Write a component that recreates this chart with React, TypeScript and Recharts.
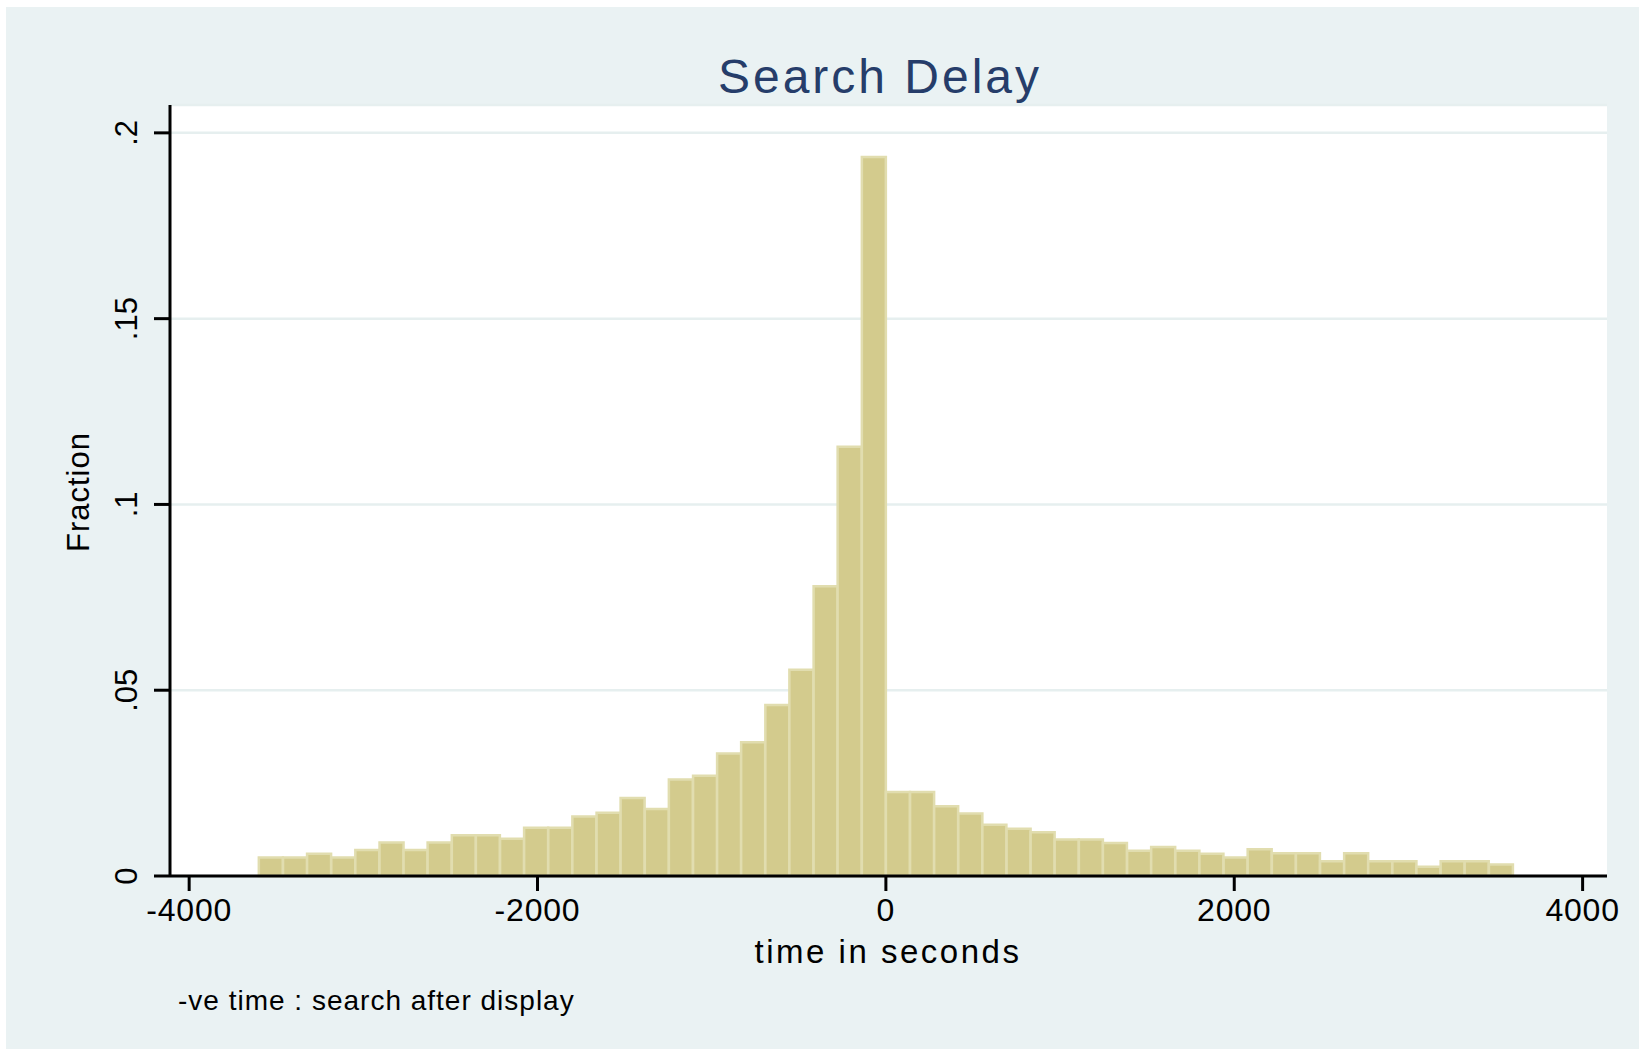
import React from 'react';
import { BarChart, Bar, XAxis, YAxis, CartesianGrid } from 'recharts';

// bin midpoints (seconds), 52 bins from -3600 to 3600
const binMids = [
  -3531, -3392, -3254, -3115, -2977, -2838, -2700, -2562, -2423, -2285, -2146, -2008, -1869,
  -1731, -1592, -1454, -1315, -1177, -1038, -900, -762, -623, -485, -346, -208, -69,
  69, 208, 346, 485, 623, 762, 900, 1038, 1177, 1315, 1454, 1592, 1731,
  1869, 2008, 2146, 2285, 2423, 2562, 2700, 2838, 2977, 3115, 3254, 3392, 3531,
];

// fraction of searches in each bin
const fractions = [
  0.005, 0.005, 0.006, 0.005, 0.007, 0.009, 0.007, 0.009, 0.011, 0.011, 0.010, 0.013, 0.013,
  0.016, 0.017, 0.021, 0.018, 0.026, 0.027, 0.033, 0.036, 0.046, 0.0555, 0.078, 0.1155, 0.1935,
  0.0226, 0.0226, 0.0188, 0.0168, 0.0138, 0.0127, 0.0118, 0.0098, 0.0098, 0.0089, 0.0068, 0.0078, 0.0068,
  0.006, 0.005, 0.0072, 0.0061, 0.0061, 0.004, 0.0061, 0.004, 0.004, 0.0025, 0.004, 0.004, 0.0031,
];

const xTicks = [-4000, -2000, 0, 2000, 4000];
const yTicks = [0, 0.05, 0.1, 0.15, 0.2];

const data = binMids.map((mid, i) => ({ mid, fraction: fractions[i] }));

const FONT = '"Liberation Sans", Arial, Helvetica, sans-serif';

const fmtY = (v: number) => (v === 0 ? '0' : String(v).replace(/^0/, ''));

const YTick = (props: any) => {
  const { y, payload } = props;
  const x = 137;
  return (
    <text
      x={x}
      y={y}
      transform={`rotate(-90, ${x}, ${y})`}
      textAnchor="middle"
      fontFamily={FONT}
      fontSize={31}
      fill="#000"
    >
      {fmtY(payload.value)}
    </text>
  );
};

const XTick = (props: any) => {
  const { x, payload } = props;
  return (
    <text x={x} y={921} textAnchor="middle" fontFamily={FONT} fontSize={32} letterSpacing={0.8} fill="#000">
      {payload.value}
    </text>
  );
};

export default function App() {
  return (
    <div style={{ position: 'absolute', left: 0, top: 0, width: 1645, height: 1055, background: '#fff' }}>
      <div
        style={{ position: 'absolute', left: 6, top: 7, width: 1633, height: 1042, background: '#EAF2F3' }}
      />
      <div style={{ position: 'absolute', left: 0, top: 0 }}>
        <BarChart
          width={1645}
          height={1055}
          data={data}
          margin={{ top: 105, right: 38, bottom: 119, left: 90 }}
          barCategoryGap={0}
          barGap={0}
        >
          <CartesianGrid
            vertical={false}
            stroke="#E6EFEF"
            strokeWidth={2.5}
            fill="#ffffff"
            fillOpacity={1}
          />
          <XAxis
            type="number"
            dataKey="mid"
            domain={[-4110, 4140]}
            ticks={xTicks}
            interval={0}
            height={60}
            tickSize={15}
            tick={<XTick />}
            axisLine={{ stroke: '#000', strokeWidth: 3 }}
            tickLine={{ stroke: '#000', strokeWidth: 3 }}
          />
          <YAxis
            type="number"
            domain={[0, 0.2075]}
            ticks={yTicks}
            interval={0}
            width={80}
            tickSize={16}
            tick={<YTick />}
            axisLine={{ stroke: '#000', strokeWidth: 3 }}
            tickLine={{ stroke: '#000', strokeWidth: 3 }}
          />
          <Bar
            dataKey="fraction"
            fill="#D3CB8D"
            stroke="#E1DDAF"
            strokeWidth={2.5}
            isAnimationActive={false}
          />
        </BarChart>
      </div>
      <svg
        width={1645}
        height={1055}
        style={{ position: 'absolute', left: 0, top: 0, pointerEvents: 'none' }}
      >
        <text x={880} y={93} textAnchor="middle" fontFamily={FONT} fontSize={48} fill="#263D6A" letterSpacing={3}>
          Search Delay
        </text>
        <text
          x={89}
          y={492}
          transform="rotate(-90, 89, 492)"
          textAnchor="middle"
          fontFamily={FONT}
          fontSize={31}
          fill="#000"
          letterSpacing={1}
        >
          Fraction
        </text>
        <text x={888} y={963} textAnchor="middle" fontFamily={FONT} fontSize={33} fill="#000" letterSpacing={2.5}>
          time in seconds
        </text>
        <text x={178} y={1010} fontFamily={FONT} fontSize={28} fill="#000" letterSpacing={1}>
          -ve time : search after display
        </text>
      </svg>
    </div>
  );
}
